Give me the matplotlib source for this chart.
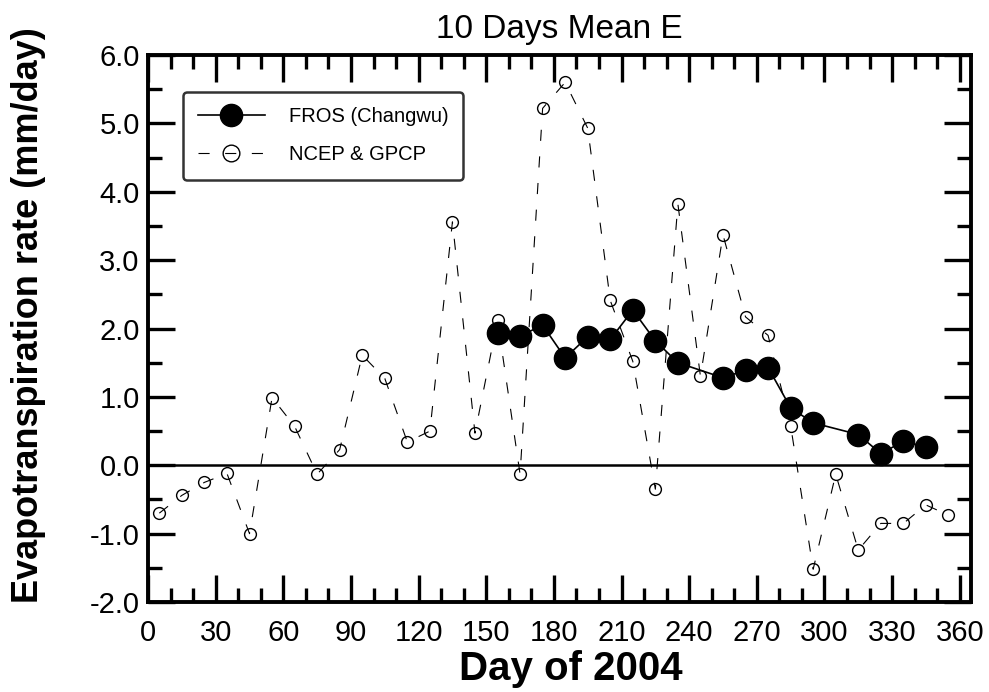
import matplotlib
matplotlib.use("Agg")
import matplotlib.pyplot as plt
from matplotlib.ticker import MultipleLocator

plt.rcParams['font.family'] = ['Liberation Sans', 'DejaVu Sans']

# Data
ncep_days = [5, 15, 25, 35, 45, 55, 65, 75, 85, 95, 105, 115, 125, 135, 145, 155, 165, 175,
             185, 195, 205, 215, 225, 235, 245, 255, 265, 275, 285, 295, 305, 315, 325, 335, 345, 355]
ncep_vals = [-0.70, -0.44, -0.25, -0.12, -1.00, 0.99, 0.57, -0.13, 0.23, 1.61, 1.27, 0.34, 0.50,
             3.56, 0.47, 2.12, -0.13, 5.22, 5.60, 4.93, 2.41, 1.52, -0.35, 3.82, 1.30, 3.37,
             2.17, 1.90, 0.58, -1.52, -0.13, -1.24, -0.85, -0.85, -0.58, -0.73]

fros_days = [155, 165, 175, 185, 195, 205, 215, 225, 235, 255, 265, 275, 285, 295, 315, 325, 335, 345]
fros_vals = [1.93, 1.89, 2.05, 1.57, 1.88, 1.84, 2.27, 1.82, 1.50, 1.28, 1.39, 1.43, 0.84, 0.62,
             0.45, 0.17, 0.35, 0.27]

x_ticks = [0, 30, 60, 90, 120, 150, 180, 210, 240, 270, 300, 330, 360]
y_ticks = [-2.0, -1.0, 0.0, 1.0, 2.0, 3.0, 4.0, 5.0, 6.0]

fig = plt.figure(figsize=(9.89, 6.92), dpi=100)
ax = fig.add_axes([0.1497, 0.130, 0.8321, 0.7905])

ax.axhline(0, color='black', lw=1.8, zorder=1)

ax.plot(ncep_days, ncep_vals, linestyle=(0, (10, 14)), lw=0.8, color='black',
        marker='o', markersize=8.5, markerfacecolor='none', markeredgecolor='black',
        markeredgewidth=1.0, label='NCEP & GPCP', zorder=2)
ax.plot(fros_days, fros_vals, linestyle='-', lw=1.2, color='black',
        marker='o', markersize=16, markerfacecolor='black', markeredgecolor='black',
        label='FROS (Changwu)', zorder=3)

ax.set_xlim(0, 365)
ax.set_ylim(-2.0, 6.0)
ax.set_xticks(x_ticks)
ax.set_xticklabels([str(t) for t in x_ticks])
ax.set_yticks(y_ticks)
ax.set_yticklabels(['%.1f' % t for t in y_ticks])
ax.xaxis.set_minor_locator(MultipleLocator(10))
ax.yaxis.set_minor_locator(MultipleLocator(0.5))

for s in ax.spines.values():
    s.set_linewidth(2.8)

ax.tick_params(which='both', direction='in', top=True, right=True, width=2.4)
ax.tick_params(which='major', length=19.5, labelsize=21)
ax.tick_params(which='minor', length=10)
ax.tick_params(axis='x', which='major', pad=12)
ax.tick_params(axis='y', which='major', pad=6)

ax.set_xlabel('Day of 2004', fontsize=29, fontweight='bold')
ax.xaxis.set_label_coords(0.514, -0.088)
ax.set_ylabel('Evapotranspiration rate (mm/day)', fontsize=26, fontweight='bold')
ax.yaxis.set_label_coords(-0.124, 0.525)
ax.set_title('10 Days Mean E', fontsize=24, pad=12)

handles, labels = ax.get_legend_handles_labels()
leg = ax.legend(handles[::-1], labels[::-1], loc='upper left', bbox_to_anchor=(0.0425, 0.932),
                borderaxespad=0, fontsize=14.5, handlelength=3.3, handletextpad=1.2,
                labelspacing=0.95, borderpad=0.75, frameon=True, fancybox=True)
leg.get_frame().set_edgecolor('black')
leg.get_frame().set_linewidth(1.8)
leg.legend_handles[1].set_markersize(12)

fig.savefig('out.png', dpi=100)
